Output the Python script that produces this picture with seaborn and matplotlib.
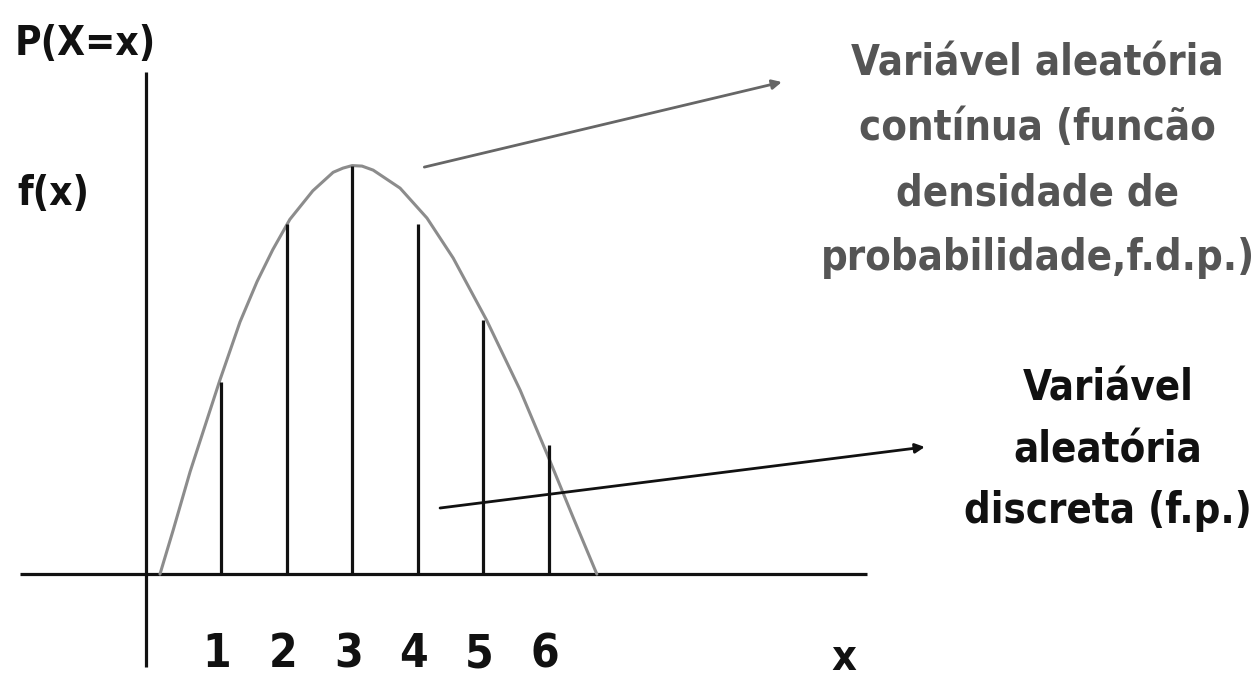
import matplotlib
matplotlib.use("Agg")
import matplotlib.pyplot as plt
import seaborn as sns

# Discrete random variable: values and probabilities P(X=x)
x_values = [1, 2, 3, 4, 5, 6]
probabilities = [0.114, 0.208, 0.243, 0.208, 0.151, 0.077]

# Continuous random variable: density curve f(x), sampled points
curve_x = [0.07, 0.27, 0.53, 0.98, 1.29, 1.55, 1.79, 2.05, 2.40, 2.71, 2.86,
           3.00, 3.15, 3.32, 3.73, 4.14, 4.54, 5.05, 5.56, 6.01, 6.36, 6.73]
curve_f = [0.000, 0.026, 0.061, 0.115, 0.150, 0.174, 0.193, 0.211, 0.228, 0.239,
           0.2415, 0.243, 0.2427, 0.2403, 0.2296, 0.2118, 0.188, 0.151, 0.1095,
           0.0678, 0.0345, 0.000]

tick_labels = ["1", "2", "3", "4", "5", "6"]
y_axis_labels = ["P(X=x)", "f(x)"]
x_axis_label = "x"
continuous_text = ["Variável aleatória", "contínua (funcão", "densidade de",
                   "probabilidade,f.d.p.)"]
discrete_text = ["Variável", "aleatória", "discreta (f.p.)"]

sns.set_theme(style="white")
plt.rcParams["font.family"] = ["Liberation Sans Narrow", "DejaVu Sans"]
plt.rcParams["font.stretch"] = "condensed"

fig = plt.figure(figsize=(12.6, 6.82), dpi=100)
ax = fig.add_axes([0, 0, 1, 1])
ax.set_xlim(-2.369, 16.84)
ax.set_ylim(-0.0642, 0.3415)
ax.axis("off")

INK = "#111111"
GREY = "#8c8c8c"
TEXT_GREY = "#555555"
NOTE_FS = 30
LABEL_FS = 29

# Coordinate axes
ax.plot([-2.064, 10.85], [0, 0], color=INK, lw=2.3, solid_capstyle="butt")
ax.plot([-0.143, -0.143], [-0.0553, 0.2986], color=INK, lw=2.3,
        solid_capstyle="butt")

# Density curve
sns.lineplot(x=curve_x, y=curve_f, sort=False, color=GREY, lw=2.2, ax=ax,
             solid_joinstyle="round")

# Probability spikes
ax.vlines(x_values, 0, probabilities, color=INK, lw=2.3)

# Value labels under the axis
for xv, lab in zip(x_values, tick_labels):
    ax.text(xv - 0.06, -0.0553, lab, ha="center", va="baseline",
            fontsize=33, fontweight="bold", color=INK)
ax.text(10.50, -0.0571, x_axis_label, ha="center", va="baseline",
        fontsize=31, fontweight="bold", color=INK)

# Vertical axis captions
ax.text(-2.14, 0.3087, y_axis_labels[0], ha="left", va="baseline",
        fontsize=LABEL_FS, fontweight="bold", color=INK)
ax.text(-2.11, 0.2195, y_axis_labels[1], ha="left", va="baseline",
        fontsize=LABEL_FS, fontweight="bold", color=INK)

# Annotation arrows
ax.annotate("", xy=(9.55, 0.2927), xytext=(4.10, 0.2421),
            arrowprops=dict(arrowstyle="-|>", color="#666666", lw=2,
                            mutation_scale=14, shrinkA=0, shrinkB=0))
ax.annotate("", xy=(11.73, 0.0756), xytext=(4.34, 0.0393),
            arrowprops=dict(arrowstyle="-|>", color=INK, lw=2,
                            mutation_scale=14, shrinkA=0, shrinkB=0))

# Explanatory notes
for yv, line in zip([0.2968, 0.2582, 0.2195, 0.1808], continuous_text):
    ax.text(13.45, yv, line, ha="center", va="baseline", fontsize=NOTE_FS,
            fontweight="bold", color=TEXT_GREY)
for yv, line in zip([0.1035, 0.0666, 0.0303], discrete_text):
    ax.text(14.52, yv, line, ha="center", va="baseline", fontsize=NOTE_FS,
            fontweight="bold", color=INK)

fig.savefig("out.png", dpi=100, facecolor="white")
